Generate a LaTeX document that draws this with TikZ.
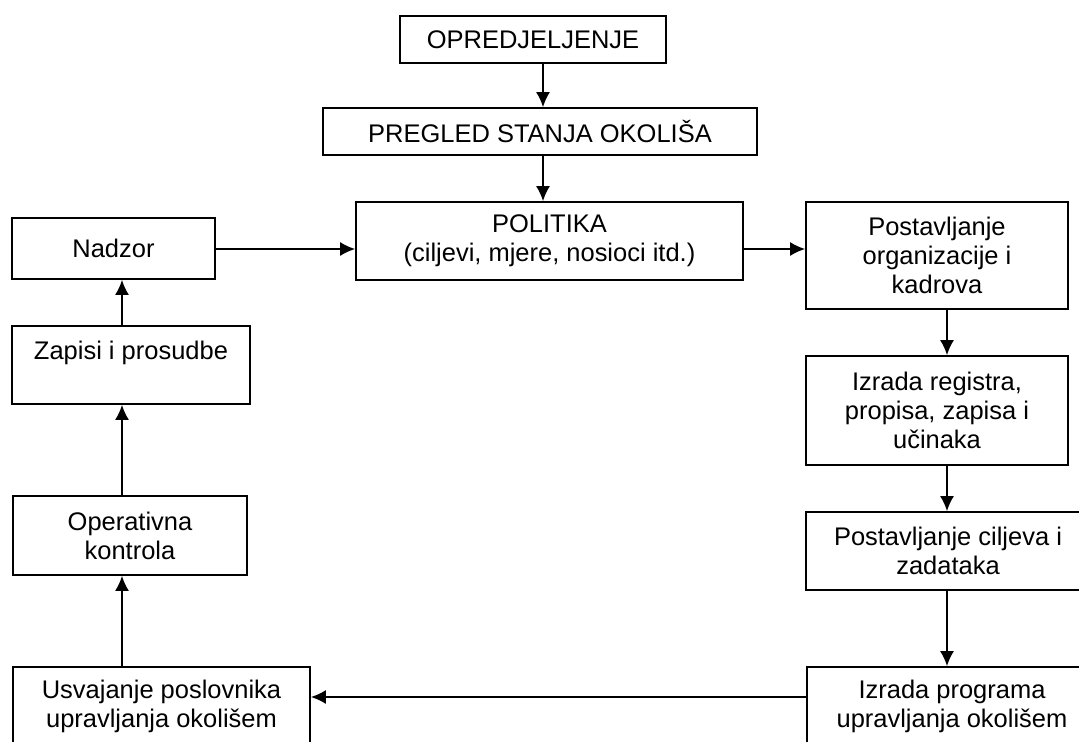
\documentclass[tikz,border=0pt]{standalone}
\usepackage{fontspec}
\setmainfont{Liberation Sans}
\usetikzlibrary{arrows.meta}

\begin{document}
\begin{tikzpicture}[x=0.02cm, y=-0.02cm, line width=0.35mm,
	box/.style={draw, black, rectangle, align=center, inner sep=2pt,
		font=\fontsize{14.5pt}{16.5pt}\selectfont},
	arr/.style={black, -{Latex[length=0.3cm, width=0.28cm]}}]
	\def\pxu{0.02cm}   % one pixel of the scan

\useasboundingbox (0,0) rectangle (1079,741);
\clip (0,0) rectangle (1079,741);

% lines the arrows run along
\coordinate (colL) at (122,0);
\coordinate (colM) at (543,0);
\coordinate (colR) at (947,0);
\coordinate (rowA) at (0,249);
\coordinate (rowB) at (0,697);

% middle column
\node[box, minimum width=266*\pxu, minimum height=47*\pxu] (opr) at (533,39.5) {OPREDJELJENJE};
\node[box, minimum width=434*\pxu, minimum height=47*\pxu] (pregled) at (540,131.5) {PREGLED STANJA OKOLIŠA};
\node[box, minimum width=387*\pxu, minimum height=78*\pxu] (politika) at (549.5,241) {POLITIKA\\(ciljevi, mjere, nosioci itd.)};

% left column
\node[box, minimum width=203*\pxu, minimum height=61*\pxu] (nadzor) at (113.5,248.5) {Nadzor};
\node[box, minimum width=238*\pxu, minimum height=78*\pxu, text depth=17pt] (zapisi) at (131,365) {Zapisi i prosudbe};
\node[box, minimum width=234*\pxu, minimum height=79*\pxu] (operativna) at (130,535.5) {Operativna\\kontrola};
\node[box, minimum width=297*\pxu, minimum height=78*\pxu] (usvajanje) at (161.5,706) {Usvajanje poslovnika\\upravljanja okolišem};

% right column
\node[box, minimum width=262*\pxu, minimum height=107*\pxu] (postorg) at (937,255.5) {Postavljanje\\organizacije i\\kadrova};
\node[box, minimum width=262*\pxu, minimum height=109*\pxu] (registar) at (937,410.5) {Izrada registra,\\propisa, zapisa i\\učinaka};
\node[box, minimum width=284*\pxu, minimum height=78*\pxu] (ciljevi) at (948,551) {Postavljanje ciljeva i\\zadataka};
\node[box, minimum width=290*\pxu, minimum height=78*\pxu] (program) at (952,706) {Izrada programa\\upravljanja okolišem};

% down the middle
\draw[arr] (opr.south -| colM) -- (pregled.north -| colM);
\draw[arr] (pregled.south -| colM) -- (politika.north -| colM);

% across the top
\draw[arr] (nadzor.east |- rowA) -- (politika.west |- rowA);
\draw[arr] (politika.east |- rowA) -- (postorg.west |- rowA);

% down the right
\draw[arr] (postorg.south -| colR) -- (registar.north -| colR);
\draw[arr] (registar.south -| colR) -- (ciljevi.north -| colR);
\draw[arr] (ciljevi.south -| colR) -- (program.north -| colR);

% back along the bottom
\draw[arr] (program.west |- rowB) -- (usvajanje.east |- rowB);

% up the left
\draw[arr] (usvajanje.north -| colL) -- (operativna.south -| colL);
\draw[arr] (operativna.north -| colL) -- (zapisi.south -| colL);
\draw[arr] (zapisi.north -| colL) -- (nadzor.south -| colL);

\end{tikzpicture}
\end{document}
